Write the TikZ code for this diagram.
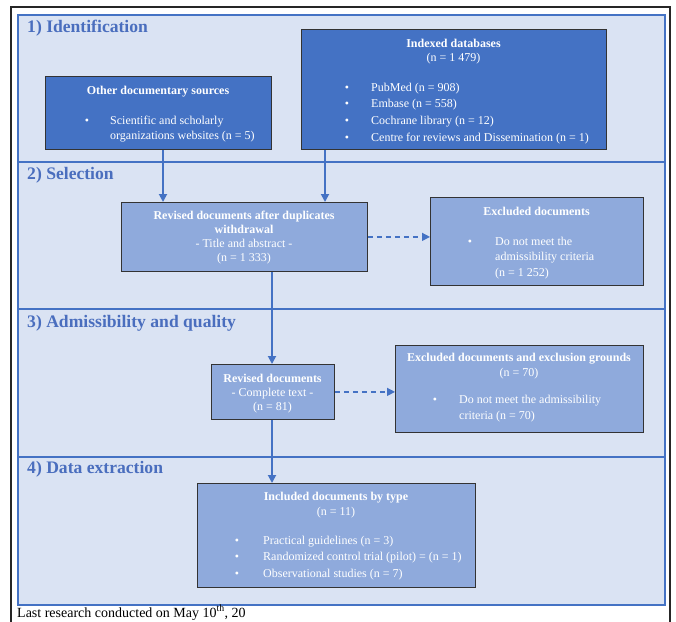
\documentclass[tikz,border=0pt]{standalone}
\usepackage{fontspec}
\setmainfont{Liberation Serif}
\usetikzlibrary{arrows.meta}
\definecolor{bgblue}{HTML}{DAE3F3}
\definecolor{lineblue}{HTML}{4472C4}
\definecolor{darkfill}{HTML}{4472C4}
\definecolor{lightfill}{HTML}{8FAADC}
\definecolor{titleblue}{HTML}{4A6EBE}
\tikzset{
  boxbase/.style={draw=black!80, line width=0.8pt, inner sep=0pt, anchor=north west, rectangle},
  darkbox/.style={boxbase, fill=darkfill},
  lightbox/.style={boxbase, fill=lightfill},
  wt/.style={text=white, font=\fontsize{12}{14}\selectfont, anchor=base, inner sep=0pt},
  wtl/.style={wt, anchor=base west},
  wtb/.style={wt, font=\fontsize{12}{14}\selectfont\bfseries},
  bul/.style={wt},
  sectitle/.style={text=titleblue, font=\fontsize{17.6}{20}\selectfont\bfseries, anchor=base west, inner sep=0pt},
  arr/.style={draw=lineblue, line width=1.8pt, -{Triangle[length=8pt,width=8pt]}},
  darr/.style={draw=lineblue, line width=1.3pt, dash pattern=on 5pt off 4pt, -{Triangle[length=8pt,width=8pt]}},
  divider/.style={draw=lineblue, line width=1.6pt}
}
\begin{document}
\begin{tikzpicture}[x=1pt,y=-1pt]
\useasboundingbox (0,0) rectangle (676,621);
\fill[white] (0,0) rectangle (676,621);
% outer page border
\draw[black!85, line width=1.3pt] (11,625) -- (11,7) -- (670,7) -- (670,625);
% inner frame
\node[draw=lineblue, line width=1.8pt, fill=bgblue, anchor=north west, inner sep=0pt,
      minimum width=647pt, minimum height=590pt] (frame) at (17,14) {};
% section dividers
\coordinate (d1) at (0,162);
\coordinate (d2) at (0,309);
\coordinate (d3) at (0,457);
\draw[divider] (frame.west |- d1) -- (frame.east |- d1);
\draw[divider] (frame.west |- d2) -- (frame.east |- d2);
\draw[divider] (frame.west |- d3) -- (frame.east |- d3);
% section titles
\node[sectitle] (s1) at (27,32) {1) Identification};
\node[sectitle] (s2) at (27,179) {2) Selection};
\node[sectitle] (s3) at (27,327) {3) Admissibility and quality};
\node[sectitle] (s4) at (27,473) {4) Data extraction};

% Other documentary sources
\node[darkbox, minimum width=226pt, minimum height=73pt] (other) at (45,76) {};
\node[wtb] (otherT) at (158,94) {Other documentary sources};
\node[bul] (otherB) at (87,124) {•};
\node[wtl] (otherL1) at (110,124) {Scientific and scholarly};
\node[wtl] (otherL2) at (110,139) {organizations websites (n = 5)};

% Indexed databases
\node[darkbox, minimum width=305pt, minimum height=120pt] (index) at (301,29) {};
\node[wtb] (indexT) at (453.5,47) {Indexed databases};
\node[wt] (indexN) at (453.5,61) {(n = 1 479)};
\node[bul] (ib1) at (347,91) {•};
\node[bul] (ib2) at (347,107.7) {•};
\node[bul] (ib3) at (347,124.4) {•};
\node[bul] (ib4) at (347,141) {•};
\node[wtl] (il1) at (371,91) {PubMed (n = 908)};
\node[wtl] (il2) at (371,107.7) {Embase (n = 558)};
\node[wtl] (il3) at (371,124.4) {Cochrane library (n = 12)};
\node[wtl] (il4) at (371,141) {Centre for reviews and Dissemination (n = 1)};

% Revised documents after duplicates withdrawal
\node[lightbox, minimum width=246pt, minimum height=69pt] (dup) at (121,202) {};
\node[wtb] (dupT1) at (244,219) {Revised documents after duplicates};
\node[wtb] (dupT2) at (244,233) {withdrawal};
\node[wt] (dupL3) at (244,247) {- Title and abstract -};
\node[wt] (dupL4) at (244,261.5) {(n = 1 333)};

% Excluded documents
\node[lightbox, minimum width=213pt, minimum height=88pt] (excl1) at (430,197) {};
\node[wtb] (excl1T) at (536.5,215) {Excluded documents};
\node[bul] (e1b) at (470,245) {•};
\node[wtl] (e1l1) at (495,245) {Do not meet the};
\node[wtl] (e1l2) at (495,260.5) {admissibility criteria};
\node[wtl] (e1l3) at (495,276) {(n = 1 252)};

% Revised documents - complete text
\node[lightbox, minimum width=123pt, minimum height=55pt] (rev) at (211,364) {};
\node[wtb] (revT) at (272.5,382) {Revised documents};
\node[wt] (revL2) at (272.5,396) {- Complete text -};
\node[wt] (revL3) at (272.5,410.5) {(n = 81)};

% Excluded documents and exclusion grounds
\node[lightbox, minimum width=248pt, minimum height=87pt] (excl2) at (395,345) {};
\node[wtb] (excl2T) at (519,361) {Excluded documents and exclusion grounds};
\node[wt] (excl2N) at (519,376) {(n = 70)};
\node[bul] (e2b) at (435,403) {•};
\node[wtl] (e2l1) at (459,403) {Do not meet the admissibility};
\node[wtl] (e2l2) at (459,419) {criteria (n = 70)};

% Included documents by type
\node[lightbox, minimum width=278pt, minimum height=104pt] (incl) at (197,483) {};
\node[wtb] (inclT) at (336,500) {Included documents by type};
\node[wt] (inclN) at (336,515) {(n = 11)};
\node[bul] (inb1) at (237,544) {•};
\node[bul] (inb2) at (237,560.5) {•};
\node[bul] (inb3) at (237,577) {•};
\node[wtl] (inl1) at (263,544) {Practical guidelines (n = 3)};
\node[wtl] (inl2) at (263,560.5) {Randomized control trial (pilot) = (n = 1)};
\node[wtl] (inl3) at (263,577) {Observational studies (n = 7)};

% connectors
\coordinate (xa) at (163,0);
\coordinate (xb) at (325,0);
\coordinate (xc) at (272,0);
\draw[arr] (other.south -| xa) -- (dup.north -| xa);
\draw[arr] (index.south -| xb) -- (dup.north -| xb);
\draw[arr] (dup.south -| xc) -- (rev.north -| xc);
\draw[arr] (rev.south -| xc) -- (incl.north -| xc);
\draw[darr] (dup.east) -- (dup.east -| excl1.west);
\draw[darr] (rev.east) -- (rev.east -| excl2.west);

% footer
\node[anchor=base west, inner sep=0pt, font=\fontsize{14}{16}\selectfont] (foot) at (17,617)
  {Last research conducted on May 10\textsuperscript{th}, 20};
\end{tikzpicture}
\end{document}
